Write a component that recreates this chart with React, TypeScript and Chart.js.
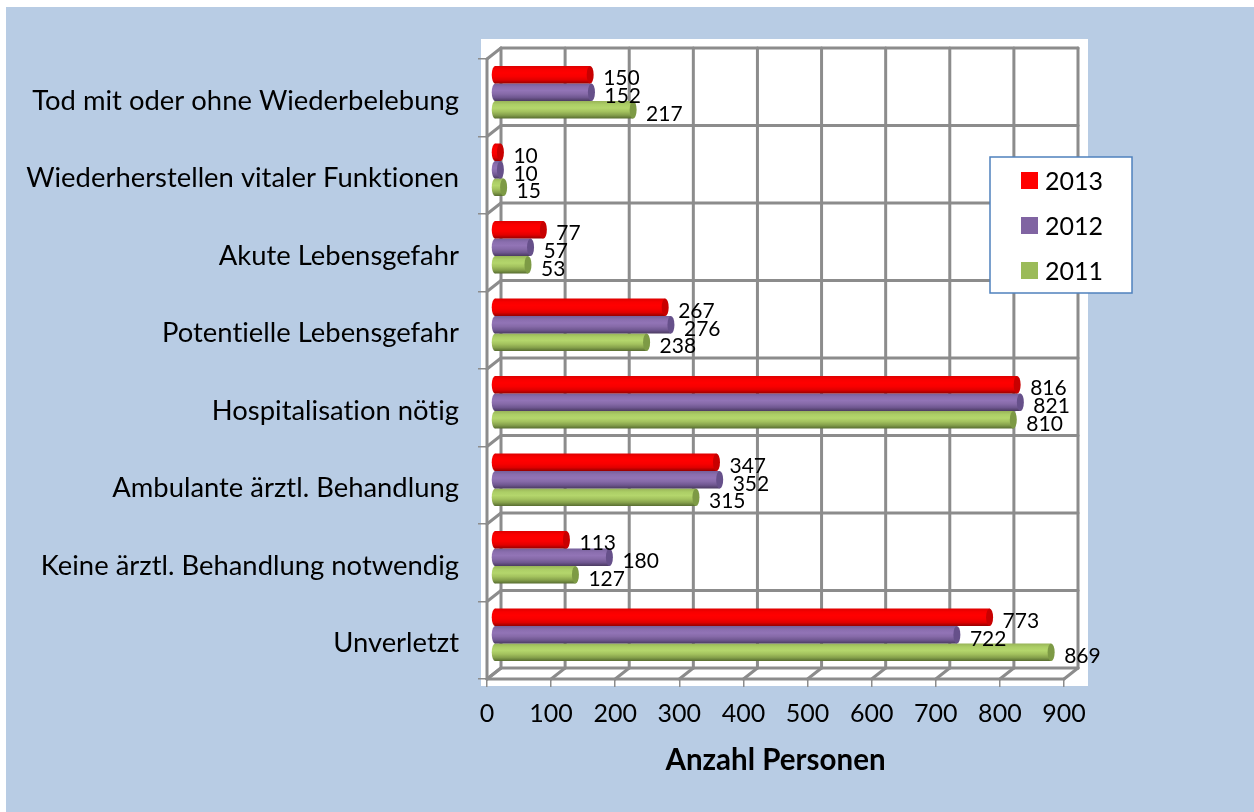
import React, { useEffect, useRef } from "react";
import { Chart, registerables } from "chart.js";

Chart.register(...registerables);

const categories = [
  "Tod mit oder ohne Wiederbelebung",
  "Wiederherstellen vitaler Funktionen",
  "Akute Lebensgefahr",
  "Potentielle Lebensgefahr",
  "Hospitalisation nötig",
  "Ambulante ärztl. Behandlung",
  "Keine ärztl. Behandlung notwendig",
  "Unverletzt",
];
const values2013 = [150, 10, 77, 267, 816, 347, 113, 773];
const values2012 = [152, 10, 57, 276, 821, 352, 180, 722];
const values2011 = [217, 15, 53, 238, 810, 315, 127, 869];
const seriesNames = ["2013", "2012", "2011"];
const swatches = ["#ff0000", "#8064a2", "#9bbb59"];
// gradient stops top→bottom, plus end-cap colour
const bodyStops = [
  ["#dc0000", "#f80000", "#ff0000", "#f80000", "#e00000", "#960000"],
  ["#76609a", "#8a6eae", "#9274b6", "#866aa8", "#6f5790", "#4a3a60"],
  ["#98b458", "#acce66", "#b4d66c", "#a3c25e", "#85a04b", "#566b30"],
];
const capColors = ["#c80000", "#66508a", "#7d9a45"];

const FONT = "Lato";
const DX = 14;
const DY = -11;
const GRID = "#8c8c8c";

const cylinder3d = {
  id: "cylinder3d",
  beforeDraw(chart: any) {
    const { ctx, chartArea: a } = chart;
    ctx.letterSpacing = "0.01px";
    ctx.save();
    ctx.fillStyle = "#b8cce4";
    ctx.fillRect(6, 7, chart.width - 6, chart.height - 7);
    ctx.fillStyle = "#ffffff";
    ctx.fillRect(a.left - 6, a.top - 20, a.right - a.left + 30, a.bottom - a.top + 27);
    ctx.restore();
  },
  beforeDatasetsDraw(chart: any) {
    const { ctx, chartArea: a, scales } = chart;
    const { x, y } = scales;
    ctx.save();
    ctx.strokeStyle = GRID;
    ctx.lineWidth = 3;
    ctx.lineCap = "round";
    const seg = (x1: number, y1: number, x2: number, y2: number) => {
      ctx.beginPath();
      ctx.moveTo(x1, y1);
      ctx.lineTo(x2, y2);
      ctx.stroke();
    };
    x.ticks.forEach((t: any) => {
      const px = x.getPixelForValue(t.value);
      seg(px + DX, a.top + DY, px + DX, a.bottom + DY);
      seg(px, a.bottom, px + DX, a.bottom + DY);
    });
    categories.forEach((_, i) => {
      const py = y.getPixelForValue(i - 0.5);
      seg(a.left + DX, py + DY, a.right + DX, py + DY);
      seg(a.left, py, a.left + DX, py + DY);
    });
    seg(a.left + DX, a.bottom + DY, a.right + DX, a.bottom + DY);
    seg(a.left, a.bottom, a.left + DX, a.bottom + DY);
    seg(a.left, a.top, a.left, a.bottom);
    seg(a.left, a.bottom, a.right, a.bottom);
    ctx.restore();
  },
  beforeDatasetDraw(chart: any) {
    chart.ctx.save();
    chart.ctx.translate(DX / 2, DY / 2);
  },
  afterDatasetDraw(chart: any, args: any) {
    const { ctx } = chart;
    const meta = args.meta;
    const di = args.index;
    const base = meta.data[0]?.base;
    meta.data.forEach((bar: any) => {
      const h = bar.height;
      const rx = 3.5;
      // rounded start
      ctx.fillStyle = bar.options.backgroundColor;
      ctx.beginPath();
      ctx.ellipse(base + 0.5, bar.y, rx, h / 2, 0, Math.PI / 2, (3 * Math.PI) / 2);
      ctx.fill();
      // end cap
      ctx.fillStyle = capColors[di];
      ctx.beginPath();
      ctx.ellipse(bar.x, bar.y, rx, h / 2, 0, 0, Math.PI * 2);
      ctx.fill();
    });
    ctx.restore();
  },
  afterDatasetsDraw(chart: any) {
    const { ctx } = chart;
    ctx.save();
    ctx.font = `21px ${FONT}`;
    ctx.fillStyle = "#000000";
    ctx.textAlign = "left";
    ctx.textBaseline = "middle";
    chart.data.datasets.forEach((ds: any, di: number) => {
      chart.getDatasetMeta(di).data.forEach((bar: any, i: number) => {
        ctx.fillText(String(ds.data[i]), bar.x + DX / 2 + 13, bar.y + DY / 2 + 4);
      });
    });
    // legend box
    ctx.fillStyle = "#ffffff";
    ctx.fillRect(990, 157, 142, 136);
    ctx.strokeStyle = "#4f81bd";
    ctx.lineWidth = 1.5;
    ctx.strokeRect(990, 157, 142, 136);
    ctx.font = `25px ${FONT}`;
    chart.data.datasets.forEach((ds: any, di: number) => {
      const top = 172 + di * 45;
      ctx.fillStyle = swatches[di];
      ctx.fillRect(1021, top, 17, 17);
      ctx.fillStyle = "#000000";
      ctx.fillText(ds.label, 1045, top + 10);
    });
    ctx.restore();
  },
};

export default function App() {
  const ref = useRef<HTMLCanvasElement>(null);
  useEffect(() => {
    const series = [values2013, values2012, values2011];
    const chart = new Chart(ref.current as HTMLCanvasElement, {
      type: "bar",
      plugins: [cylinder3d],
      data: {
        labels: categories,
        datasets: series.map((data, di) => ({
          label: seriesNames[di],
          data,
          categoryPercentage: 0.68,
          barPercentage: 1,
          borderWidth: 0,
          backgroundColor: (c: any) => {
            const yScale = c.chart.scales.y;
            if (!yScale || c.dataIndex === undefined) return swatches[di];
            const span = yScale.getPixelForValue(1) - yScale.getPixelForValue(0);
            const thick = (span * 0.68) / 3;
            const top = yScale.getPixelForValue(c.dataIndex) - (span * 0.68) / 2 + di * thick;
            if (!Number.isFinite(top) || !Number.isFinite(thick) || thick <= 0) return swatches[di];
            const g = c.chart.ctx.createLinearGradient(0, top, 0, top + thick);
            const stops = bodyStops[di];
            stops.forEach((s, i) => g.addColorStop(i / (stops.length - 1), s));
            return g;
          },
        })),
      },
      options: {
        indexAxis: "y",
        animation: false,
        responsive: false,
        layout: { padding: { left: 0, top: 59, right: 190, bottom: 0 } },
        plugins: { legend: { display: false }, tooltip: { enabled: false } },
        scales: {
          x: {
            type: "linear",
            min: 0,
            max: 900,
            afterFit: (s: any) => {
              s.height = 133;
            },
            grid: { drawOnChartArea: false, drawTicks: true, tickLength: 8, color: GRID, lineWidth: 1.5 },
            border: { display: false },
            ticks: {
              stepSize: 100,
              padding: 12,
              maxRotation: 0,
              color: "#000000",
              font: { family: FONT, size: 25 },
            },
            title: {
              display: true,
              text: "Anzahl Personen",
              color: "#000000",
              font: { family: FONT, size: 29.5, weight: "bold" },
              padding: { top: 0, bottom: 34 },
            },
          },
          y: {
            type: "category",
            afterFit: (s: any) => {
              s.width = 487;
            },
            grid: { drawOnChartArea: false, drawTicks: true, tickLength: 9, color: GRID, lineWidth: 1.5, offset: true },
            border: { display: false },
            ticks: {
              padding: 19,
              autoSkip: false,
              labelOffset: 3,
              color: "#000000",
              font: { family: FONT, size: 27.4 },
            },
          },
        },
      },
    } as any);
    return () => chart.destroy();
  }, []);
  return (
    <div style={{ position: "fixed", left: 0, top: 0, width: 1254, height: 812 }}>
      <canvas ref={ref} width={1254} height={812} style={{ display: "block" }} />
    </div>
  );
}
